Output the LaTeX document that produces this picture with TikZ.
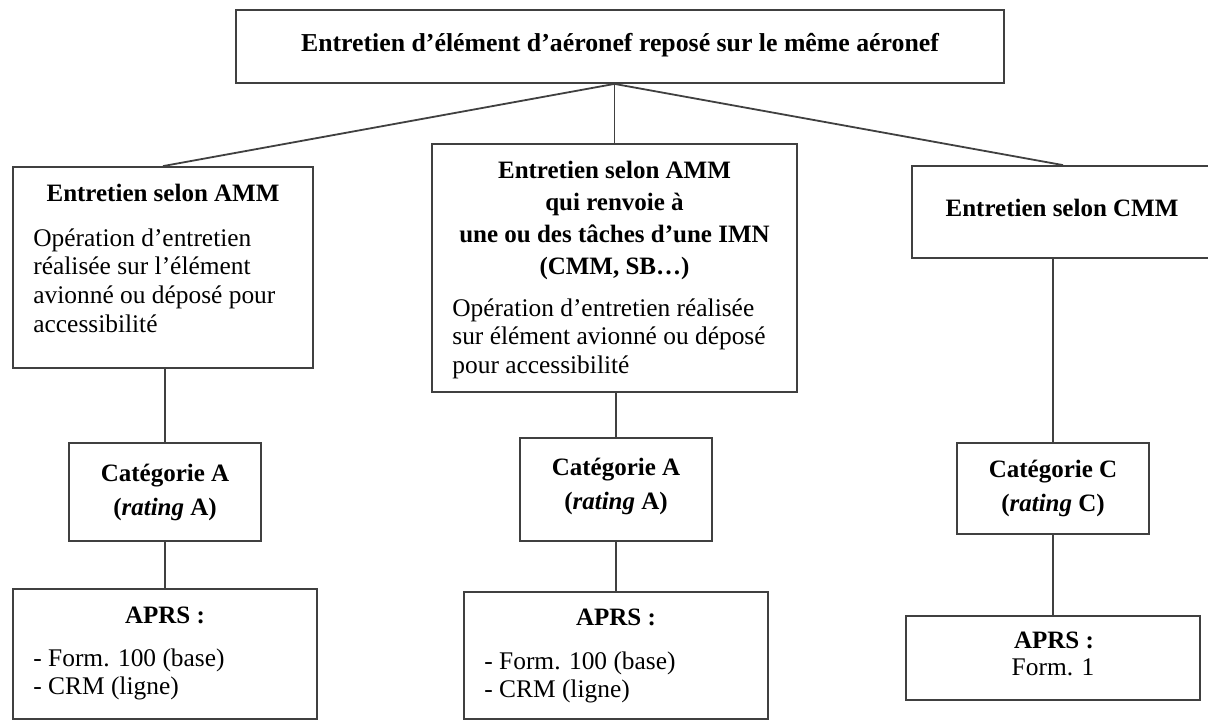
\documentclass[tikz,border=0pt]{standalone}
\usepackage{fontspec}
\setmainfont{Liberation Serif}
\usetikzlibrary{fit}
\tikzset{
	boite/.style={draw=black!75, line width=0.9pt, inner sep=0pt},
	lien/.style={draw=black!75, line width=0.9pt},
	titre/.style={font=\fontsize{12.5}{14}\selectfont\bfseries, inner sep=0pt, align=center},
	corps/.style={font=\fontsize{12.7}{13.35}\selectfont, inner sep=0pt, align=left}
}
\begin{document}
\begin{tikzpicture}[x=0.5pt,y=-0.5pt]
	\useasboundingbox (0,0) rectangle (1208,724);
	\node[boite, fit={(236,10)(1004,83)}] (racine) {};
	\node[titre, font=\fontsize{12.9}{14}\selectfont\bfseries, anchor=base] (racinetxt) at (620,51) {Entretien d’élément d’aéronef reposé sur le même aéronef};
	\node[boite, fit={(13,167)(313,368)}] (amm) {};
	\node[titre, anchor=base] (ammtitre) at (163,201) {Entretien selon AMM};
	\node[corps, anchor=north west] (ammcorps) at (33,228) {Opération d’entretien\\[1.1pt]réalisée sur l’élément\\[1.1pt]avionné ou déposé pour\\[1.1pt]accessibilité};
	\node[boite, fit={(432,144)(797,392)}] (imn) {};
	\node[titre, anchor=north] (imntitre) at (614.5,161) {Entretien selon AMM\\[2pt]qui renvoie à\\[2pt]une ou des tâches d’une IMN\\[2pt](CMM, SB…)};
	\node[corps, anchor=north west] (imncorps) at (452,298) {Opération d’entretien réalisée\\[1pt]sur élément avionné ou déposé\\[1pt]pour accessibilité};
	\node[boite, fit={(912,166)(1214,258)}] (cmm) {};
	\node[titre, anchor=base] (cmmtitre) at (1062,216) {Entretien selon CMM};
	\node[boite, fit={(69,443)(261,541)}] (catA1) {};
	\node[titre] (catA1txt) at (catA1.center) {Catégorie A\\[3pt](\textit{rating} A)};
	\node[boite, fit={(520,438)(712,541)}] (catA2) {};
	\node[titre] (catA2txt) at ([yshift=1.5pt]catA2.center) {Catégorie A\\[3pt](\textit{rating} A)};
	\node[boite, fit={(957,443)(1149,534)}] (catC) {};
	\node[titre] (catCtxt) at (catC.center) {Catégorie C\\[3pt](\textit{rating} C)};
	\node[boite, fit={(13,589)(317,719)}] (aprs1) {};
	\node[titre, anchor=base] (aprs1titre) at (165,623) {APRS :};
	\node[corps, anchor=north west] (aprs1corps) at (33,648) {- Form. 100 (base)\\[1pt]- CRM (ligne)};
	\node[boite, fit={(464,592)(768,719)}] (aprs2) {};
	\node[titre, anchor=base] (aprs2titre) at (616,625) {APRS :};
	\node[corps, anchor=north west] (aprs2corps) at (484,651) {- Form. 100 (base)\\[1pt]- CRM (ligne)};
	\node[boite, fit={(906,616)(1200,700)}] (aprs3) {};
	\node[titre, anchor=base] (aprs3titre) at (1054,648) {APRS :};
	\node[corps, anchor=base] (aprs3corps) at (1053,675) {Form. 1};
	\coordinate (hub) at (imn.north |- racine.south);
	\draw[lien] (hub) -- (amm.north);
	\draw[lien] (hub) -- (imn.north);
	\draw[lien] (hub) -- (cmm.north);
	\draw[lien] (catA1.north |- amm.south) -- (catA1.north);
	\draw[lien] (catA2.north |- imn.south) -- (catA2.north);
	\draw[lien] (catC.north |- cmm.south) -- (catC.north);
	\draw[lien] (catA1.south) -- (aprs1.north);
	\draw[lien] (catA2.south) -- (aprs2.north);
	\draw[lien] (catC.south) -- (aprs3.north);
\end{tikzpicture}
\end{document}
